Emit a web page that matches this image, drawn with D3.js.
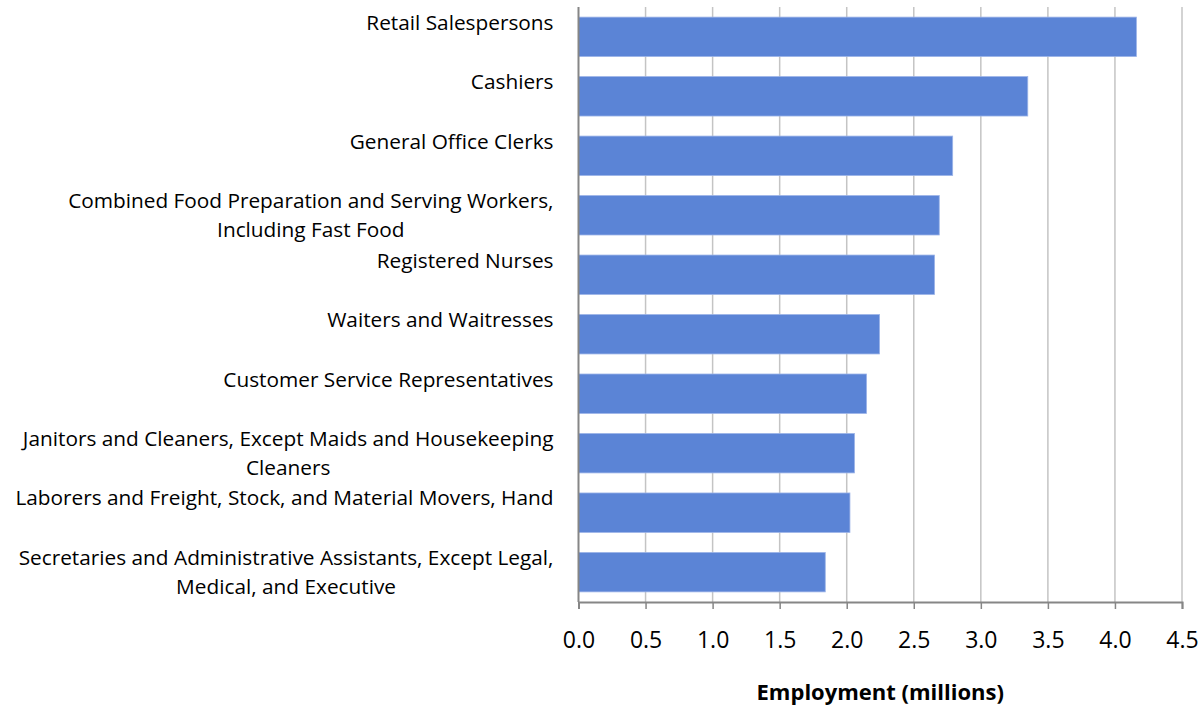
<!DOCTYPE html>
<html>
<head>
<meta charset="utf-8">
<script src="https://cdn.jsdelivr.net/npm/d3@7"></script>
<style>
  body { margin: 0; background: #fff; }
  svg { display: block; }
  text { font-family: "Open Sans", Lato, sans-serif; fill: #000; }
</style>
</head>
<body>
<div id="chart"></div>
<script>
// occupations, top to bottom ("\n" marks a wrapped label)
const occupations = [
    "Retail Salespersons",
    "Cashiers",
    "General Office Clerks",
    "Combined Food Preparation and Serving Workers,\nIncluding Fast Food",
    "Registered Nurses",
    "Waiters and Waitresses",
    "Customer Service Representatives",
    "Janitors and Cleaners, Except Maids and Housekeeping\nCleaners",
    "Laborers and Freight, Stock, and Material Movers, Hand",
    "Secretaries and Administrative Assistants, Except Legal,\nMedical, and Executive"
];
// employment in millions
const employment = [4.16, 3.35, 2.79, 2.69, 2.655, 2.245, 2.148, 2.058, 2.024, 1.84];
const xTicks = [0, 0.5, 1, 1.5, 2, 2.5, 3, 3.5, 4, 4.5];
const xTitle = "Employment (millions)";

const width = 1204, height = 708;
const margin = { top: 7, right: 22, bottom: 106, left: 578.5 };
const innerW = width - margin.left - margin.right,
      innerH = height - margin.top - margin.bottom;

const svg = d3.select("#chart").append("svg")
    .attr("width", width)
    .attr("height", height);

const g = svg.append("g")
    .attr("transform", `translate(${margin.left}, ${margin.top})`);

const x = d3.scaleLinear().domain([0, 4.5]).range([0, innerW]);
const y = d3.scaleBand().domain(occupations).range([0, innerH]).paddingInner(0.337).paddingOuter(0.17);

// vertical gridlines
g.append("g")
    .selectAll("line")
    .data(xTicks.slice(1))
    .enter().append("line")
    .attr("x1", d => x(d)).attr("x2", d => x(d))
    .attr("y1", 0).attr("y2", innerH)
    .attr("stroke", "#c4c4c4")
    .attr("stroke-width", 1.5);

// bars
g.append("g")
    .selectAll("rect")
    .data(occupations)
    .enter().append("rect")
    .attr("x", 0)
    .attr("y", d => y(d))
    .attr("width", (d, i) => x(employment[i]))
    .attr("height", y.bandwidth())
    .attr("fill", "#5b84d6")
    .attr("stroke", "#9cb4e8")
    .attr("stroke-width", 0.8);

// x axis
const xAxis = d3.axisBottom(x)
    .tickValues(xTicks)
    .tickFormat(d3.format(".1f"))
    .tickSize(7)
    .tickPadding(23);
const ax = g.append("g")
    .attr("transform", `translate(0, ${innerH})`)
    .call(xAxis);
ax.select(".domain").attr("stroke", "#868686").attr("stroke-width", 2);
ax.selectAll(".tick line").attr("stroke", "#868686").attr("stroke-width", 1.5);
ax.selectAll(".tick text").attr("font-size", 23).attr("font-family", "'Open Sans', sans-serif").attr("fill", "#000");

// y axis line
g.append("line")
    .attr("x1", 0).attr("x2", 0)
    .attr("y1", 0).attr("y2", innerH)
    .attr("stroke", "#868686")
    .attr("stroke-width", 2);

// category labels: block right-aligned, lines centred, laid out as two lines
const labelRight = -25;
const labels = g.append("g")
    .selectAll("g")
    .data(occupations)
    .enter().append("g")
    .attr("transform", d => `translate(0, ${y(d) + y.bandwidth() / 2})`);

labels.each(function(d) {
    const lines = d.split("\n");
    const sel = d3.select(this);
    const first = sel.append("text")
        .attr("x", labelRight)
        .attr("y", -14.5)
        .attr("dy", "0.35em")
        .attr("text-anchor", "end")
        .attr("font-size", 20.8)
        .text(lines[0]);
    if (lines.length > 1) {
        const w = first.node().getComputedTextLength();
        sel.append("text")
            .attr("x", labelRight - w / 2)
            .attr("y", 14.5)
            .attr("dy", "0.35em")
            .attr("text-anchor", "middle")
            .attr("font-size", 20.8)
            .text(lines[1]);
    }
});

// axis title
svg.append("text")
    .attr("x", margin.left + innerW / 2)
    .attr("y", 692)
    .attr("dy", "0.35em")
    .attr("text-anchor", "middle")
    .attr("font-size", 22)
    .attr("font-weight", "bold")
    .text(xTitle);
</script>
</body>
</html>
